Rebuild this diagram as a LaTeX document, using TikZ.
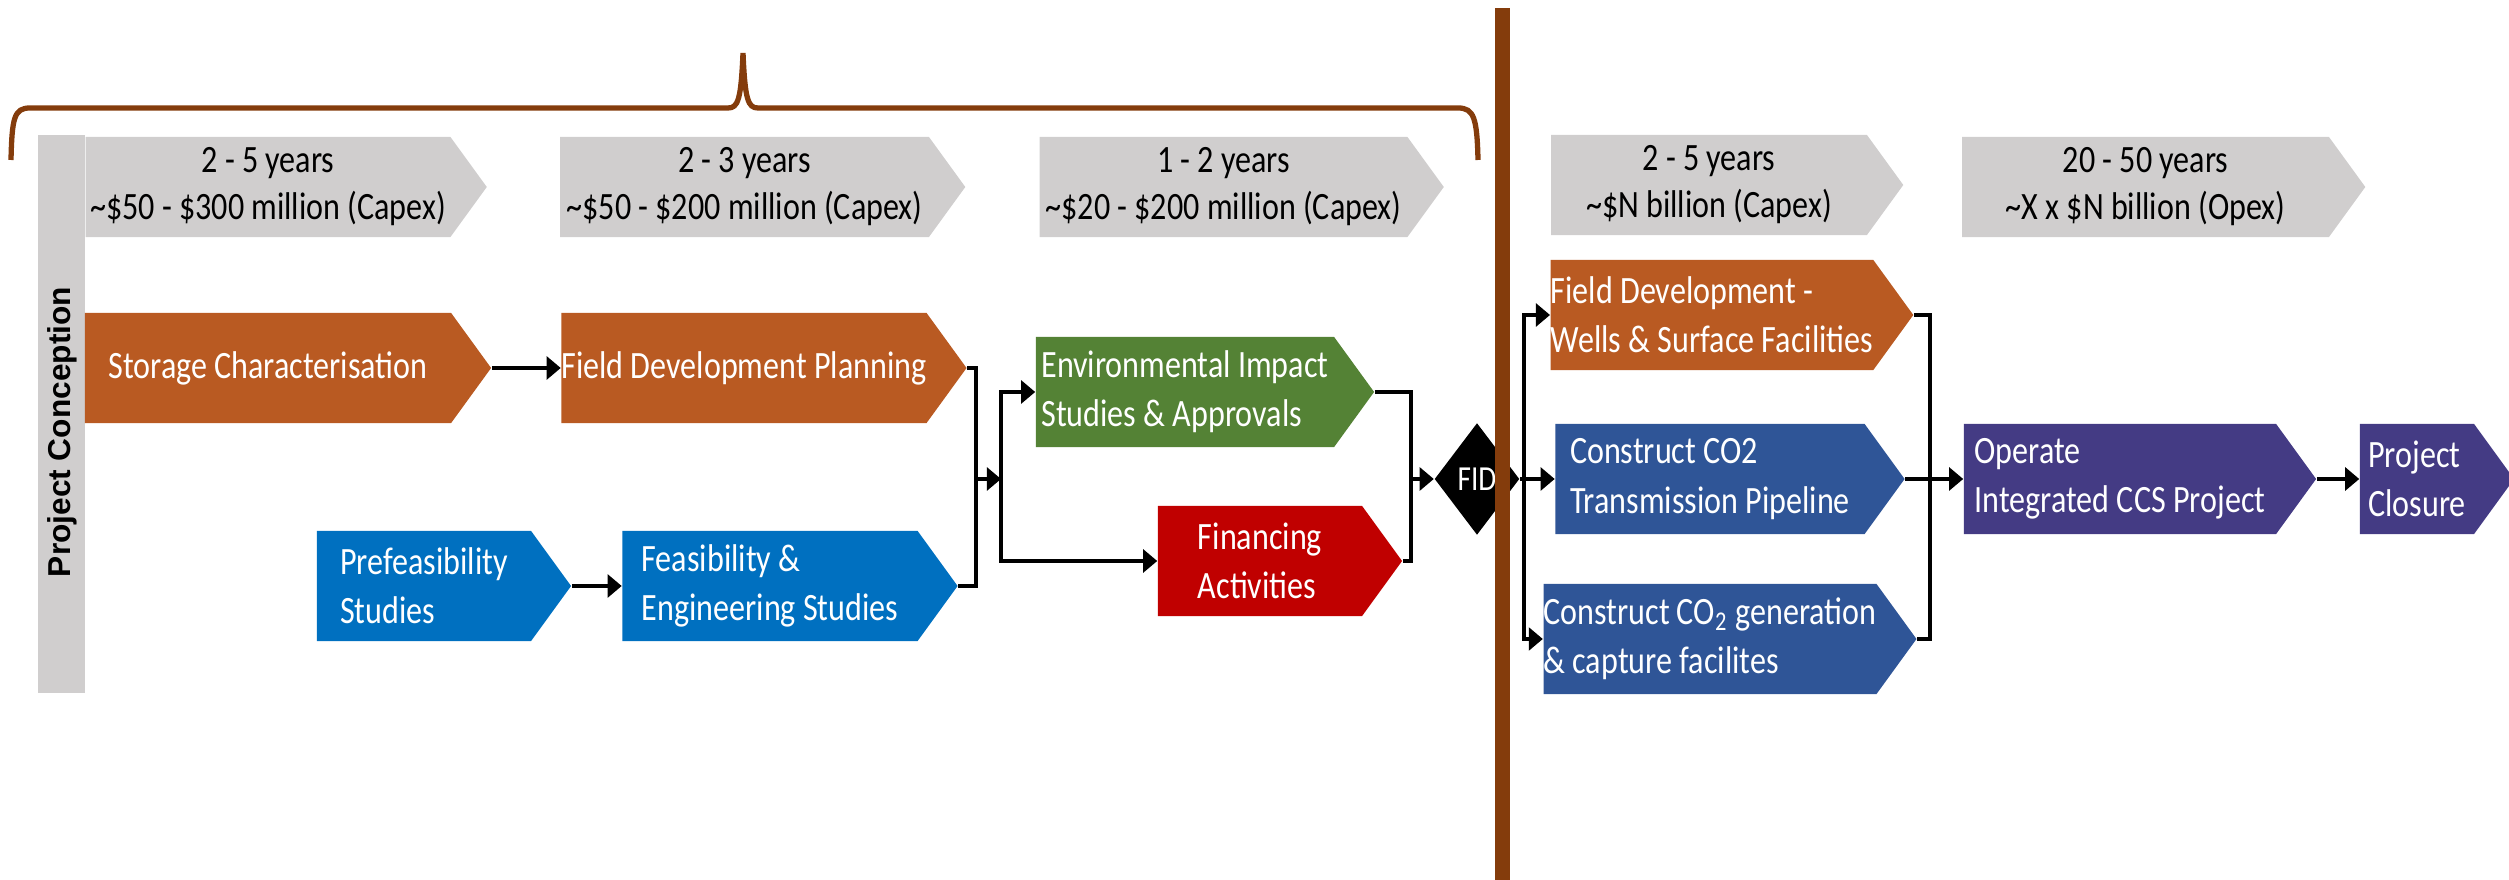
\documentclass[tikz,border=0pt]{standalone}
\usepackage{fontspec}
\setmainfont{Carlito}[FakeStretch=0.83]
\newfontfamily\barfont{Liberation Sans}
\usetikzlibrary{arrows.meta,shapes.symbols,shapes.geometric}

\definecolor{rust}{RGB}{185,90,34}
\definecolor{azure}{RGB}{0,112,192}
\definecolor{leaf}{RGB}{84,130,53}
\definecolor{crimson}{RGB}{192,0,0}
\definecolor{steel}{RGB}{47,85,151}
\definecolor{plum}{RGB}{68,59,132}
\definecolor{mist}{RGB}{208,206,206}
\definecolor{umber}{RGB}{132,60,12}

\begin{document}
\begin{tikzpicture}[x=0.01cm,y=0.01cm,
	stage/.style={shape=signal,signal to=east,signal pointer angle=108,fill=#1,text=white,
		minimum height=1.1cm,align=left,font=\fontsize{11}{14}\selectfont},
	phase/.style={shape=signal,signal to=east,signal pointer angle=108,fill=mist,
		minimum height=1cm,align=center,font=\fontsize{11}{13.4}\selectfont},
	link/.style={line width=0.9pt},
	arr/.style={line width=0.9pt,-{Triangle[length=4pt,width=6.5pt]}}]
	\tikzstyle{every node}+=[inner sep=0pt]
	\useasboundingbox (0,0) rectangle (2509,-880);
	\draw [umber,line width=1.5pt] (11,-160) .. controls (12,-118) and (14,-108) .. (30,-108) -- (728,-108)
		.. controls (738,-108) and (741,-100) .. (743,-53) .. controls (745,-100) and (748,-108) .. (758,-108)
		-- (1458,-108) .. controls (1474,-108) and (1477,-118) .. (1478,-160);
	\fill [mist] (38,-135) rectangle (85,-693);
	\node [rotate=90,font=\barfont\bfseries\fontsize{9}{11}\selectfont] (concept) at (62,-432) {Project Conception};
	\node [phase,minimum width=4.01cm] (h1) at (268,-187) {2 - 5 years\\\textasciitilde\$50 - \$300 million (Capex)};
	\node [phase,minimum width=4.05cm] (h2) at (744.5,-187) {2 - 3 years\\\textasciitilde\$50 - \$200 million (Capex)};
	\node [phase,minimum width=4.04cm] (h3) at (1223.5,-187) {1 - 2 years\\\textasciitilde\$20 - \$200 million (Capex)};
	\node [phase,minimum width=3.52cm] (h4) at (1709,-185) {2 - 5 years\\\textasciitilde\$N billion (Capex)};
	\node [phase,minimum width=4.03cm] (h5) at (2145.5,-187) {20 - 50 years\\\textasciitilde X x \$N billion (Opex)};
	\node [stage=rust,minimum width=4.06cm] (stor) at (268,-368) {Storage Characterisation};
	\node [stage=rust,minimum width=3.89cm] (fdp) at (744,-368) {Field Development Planning};
	\node [stage=azure,minimum width=2.54cm] (pre) at (424,-586) {Prefeasibility\\Studies};
	\node [stage=azure,minimum width=3.35cm] (feas) at (770,-586) {Feasibility \&\\Engineering Studies};
	\node [stage=leaf,minimum width=3.38cm] (env) at (1185,-392) {Environmental Impact\\Studies \& Approvals};
	\node [stage=crimson,minimum width=2.44cm] (fin) at (1260,-561) {Financing\\Activities};
	\node [diamond,fill=black,text=white,minimum width=0.85cm,minimum height=1.12cm,font=\fontsize{10}{12}\selectfont] (fid) at (1477,-479) {FID};
	\fill [umber] (1495,-8) rectangle (1510,-880);
	\node [stage=rust,minimum width=3.52cm] (fdw) at (1712,-315) {Field Development -\\Wells \& Surface Facilities};
	\node [stage=steel,minimum width=3.49cm] (co2) at (1710,-479) {Construct CO2\\Transmission Pipeline};
	\node [stage=steel,minimum width=3.52cm] (gen) at (1710,-639) {Construct CO\textsubscript{2} generation\\\& capture facilites};
	\node [stage=plum,minimum width=3.52cm] (oper) at (2120,-479) {Operate\\Integrated CCS Project};
	\node [stage=plum,minimum width=1.54cm] (clos) at (2417,-479) {Project\\Closure};
	\coordinate (j1) at (976,-479);
	\coordinate (s1) at (1001,-479);
	\coordinate (j2) at (1411,-479);
	\coordinate (s2) at (1524,-479);
	\coordinate (j3) at (1930,-479);
	\draw [arr] (stor.east) -- (fdp.west);
	\draw [arr] (pre.east) -- (feas.west);
	\draw [link] (fdp.east) -| (j1) |- (feas.east);
	\draw [arr] (j1) -- (s1);
	\draw [arr] (s1) |- (env.west);
	\draw [arr] (s1) |- (fin.west);
	\draw [link] (env.east) -| (j2) |- (fin.east);
	\draw [arr] (j2) -- (fid.west);
	\draw [link] (fid.east) -- (s2);
	\draw [arr] (s2) |- (fdw.west);
	\draw [arr] (s2) -- (co2.west);
	\draw [arr] (s2) |- (gen.west);
	\draw [link] (fdw.east) -| (j3) |- (gen.east);
	\draw [arr] (co2.east) -- (oper.west);
	\draw [arr] (oper.east) -- (clos.west);
\end{tikzpicture}
\end{document}
